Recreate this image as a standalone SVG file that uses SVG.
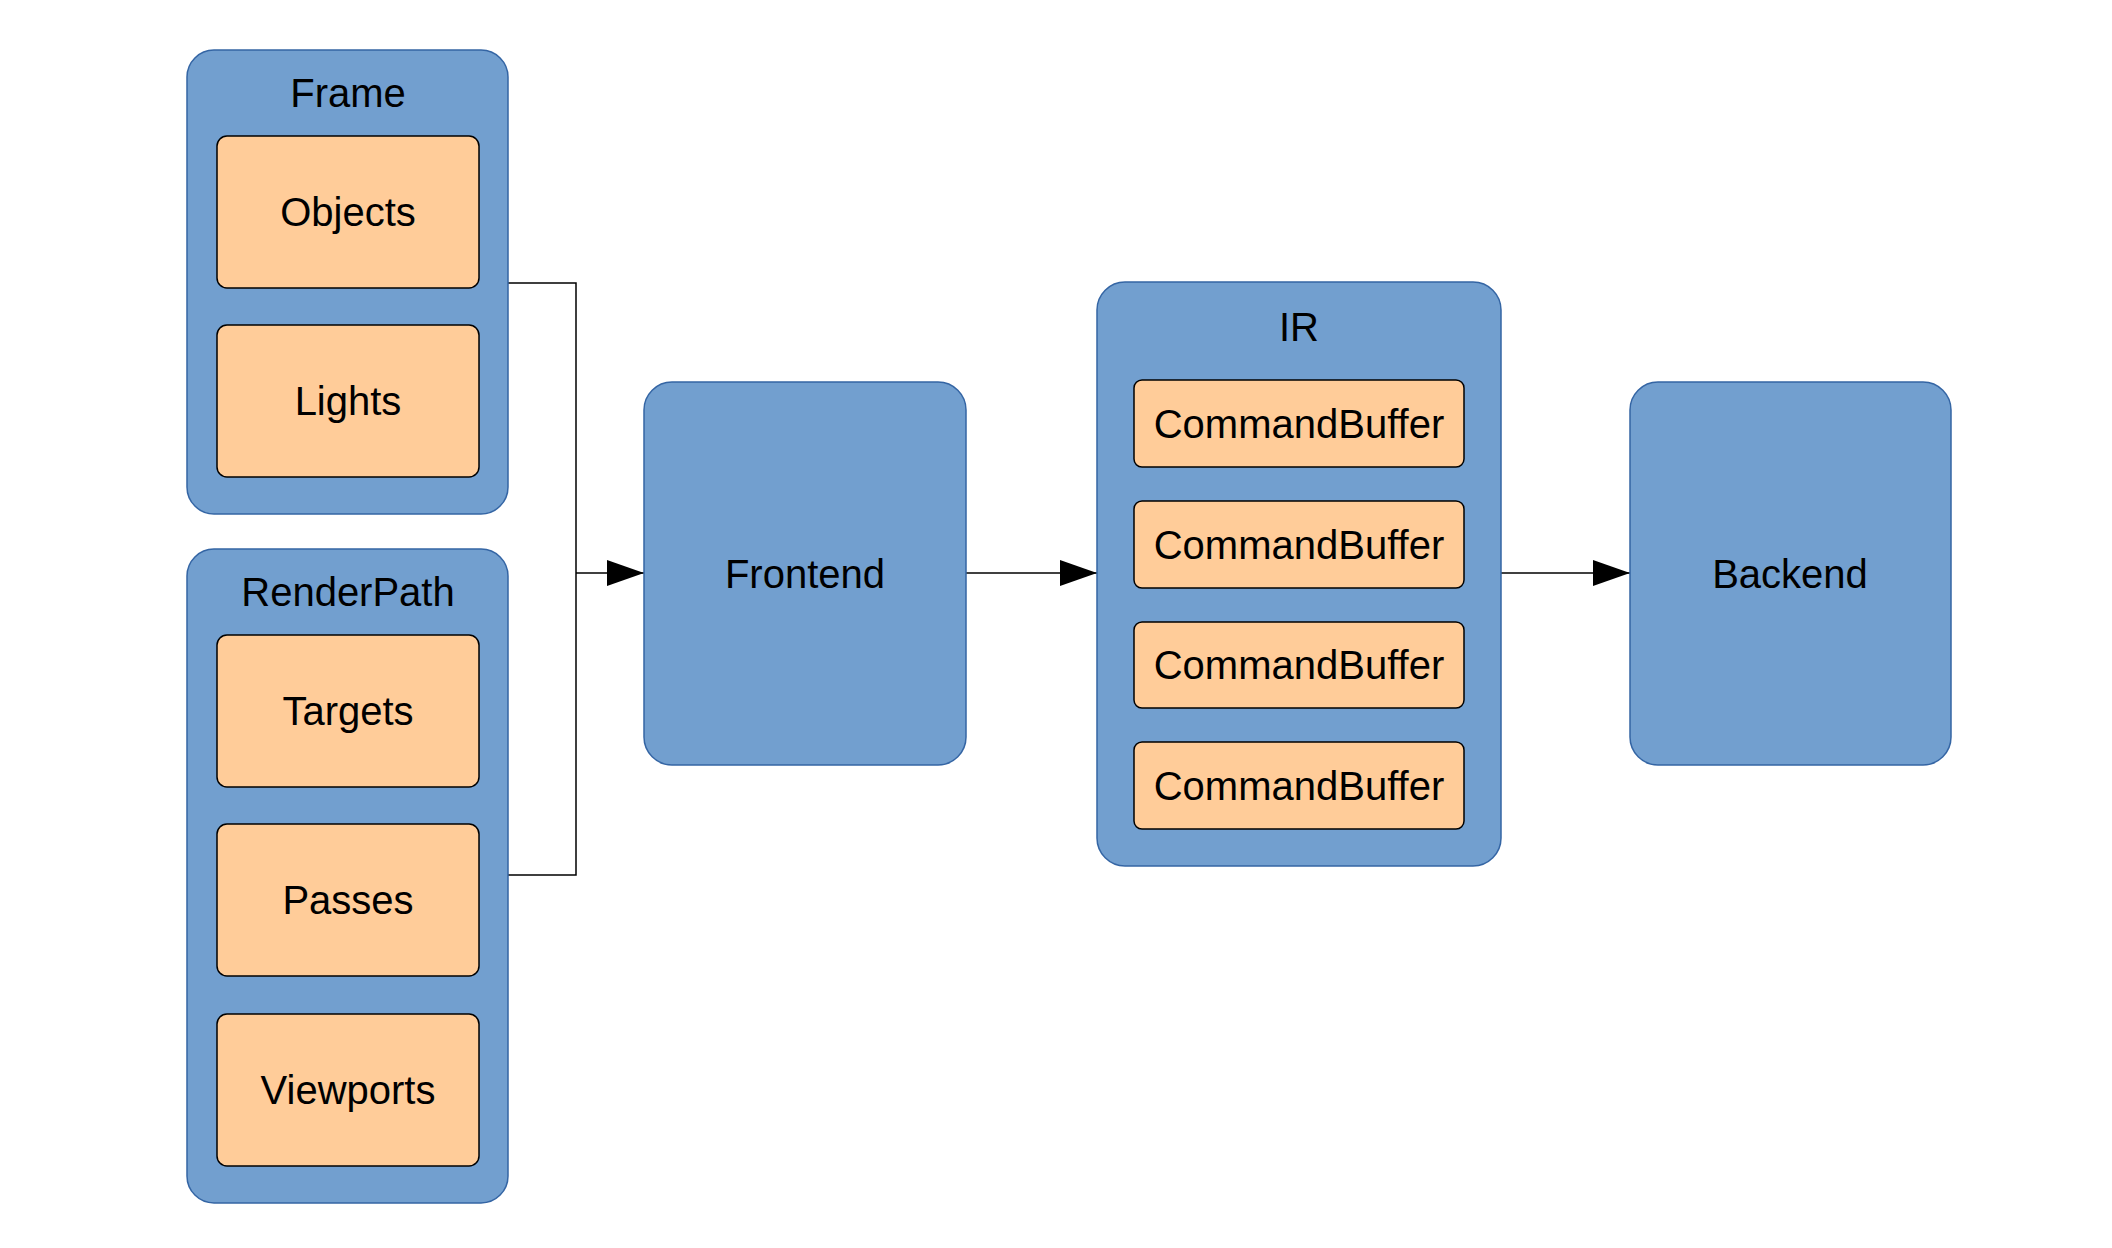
<svg xmlns="http://www.w3.org/2000/svg" width="2112" height="1248" viewBox="0 0 2112 1248">
<style>
.outer{fill:#729fcf;stroke:#3465a4;stroke-width:1.5}
.inner{fill:#ffcc99;stroke:#000;stroke-width:1.5}
.t{font-family:"Liberation Sans",Arial,sans-serif;font-size:40px;fill:#000;text-anchor:middle}
.c{fill:none;stroke:#000;stroke-width:1.5}
</style>
<defs>
<marker id="arr" markerUnits="userSpaceOnUse" markerWidth="38" markerHeight="26" refX="37" refY="13" orient="auto">
<path d="M0,0 L37,13 L0,26 Z" fill="#000"/>
</marker>
</defs>
<rect width="2112" height="1248" fill="#fff"/>
<g id="connectors">
<path class="c" d="M508,283 H576 V875 H508"/>
<path class="c" d="M576,573 H644" marker-end="url(#arr)"/>
<path class="c" d="M966,573 H1097" marker-end="url(#arr)"/>
<path class="c" d="M1501,573 H1630" marker-end="url(#arr)"/>
</g>
<g id="frame">
<rect class="outer" x="187" y="50" width="321" height="464" rx="27"/>
<text class="t" x="348" y="107">Frame</text>
</g>
<g id="objects">
<rect class="inner" x="217" y="136" width="262" height="152" rx="10"/>
<text class="t" x="348" y="226">Objects</text>
</g>
<g id="lights">
<rect class="inner" x="217" y="325" width="262" height="152" rx="10"/>
<text class="t" x="348" y="415">Lights</text>
</g>
<g id="renderpath">
<rect class="outer" x="187" y="549" width="321" height="654" rx="27"/>
<text class="t" x="348" y="606">RenderPath</text>
</g>
<g id="targets">
<rect class="inner" x="217" y="635" width="262" height="152" rx="10"/>
<text class="t" x="348" y="725">Targets</text>
</g>
<g id="passes">
<rect class="inner" x="217" y="824" width="262" height="152" rx="10"/>
<text class="t" x="348" y="914">Passes</text>
</g>
<g id="viewports">
<rect class="inner" x="217" y="1014" width="262" height="152" rx="10"/>
<text class="t" x="348" y="1104">Viewports</text>
</g>
<g id="frontend">
<rect class="outer" x="644" y="382" width="322" height="383" rx="28"/>
<text class="t" x="805" y="588">Frontend</text>
</g>
<g id="ir">
<rect class="outer" x="1097" y="282" width="404" height="584" rx="28"/>
<text class="t" x="1299" y="341">IR</text>
</g>
<g id="cb1">
<rect class="inner" x="1134" y="380" width="330" height="87" rx="8"/>
<text class="t" x="1299" y="438">CommandBuffer</text>
</g>
<g id="cb2">
<rect class="inner" x="1134" y="501" width="330" height="87" rx="8"/>
<text class="t" x="1299" y="559">CommandBuffer</text>
</g>
<g id="cb3">
<rect class="inner" x="1134" y="622" width="330" height="86" rx="8"/>
<text class="t" x="1299" y="679">CommandBuffer</text>
</g>
<g id="cb4">
<rect class="inner" x="1134" y="742" width="330" height="87" rx="8"/>
<text class="t" x="1299" y="800">CommandBuffer</text>
</g>
<g id="backend">
<rect class="outer" x="1630" y="382" width="321" height="383" rx="28"/>
<text class="t" x="1790" y="588">Backend</text>
</g>
</svg>
